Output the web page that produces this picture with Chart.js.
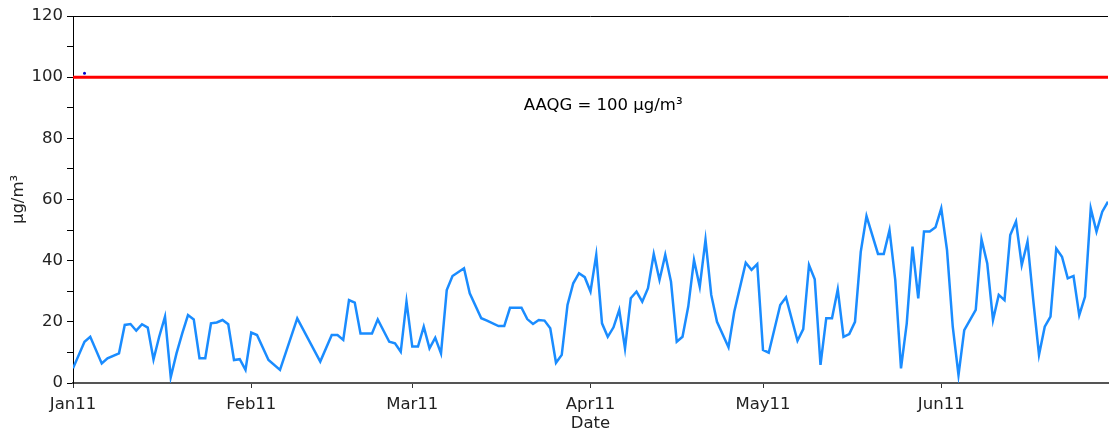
<!DOCTYPE html>
<html><head><meta charset="utf-8">
<script src="https://cdn.jsdelivr.net/npm/chart.js@4.4.0/dist/chart.umd.min.js"></script>
<style>html,body{margin:0;padding:0;background:#fff}#w{width:1112px;height:432px}</style>
</head><body><div id="w"><canvas id="c" width="1112" height="432"></canvas></div>
<script>
// Day of year 2011 (Jan 1 = 0)
const days = [0,2,3,5,6,8,9,10,11,12,13,14,15,16,17,18,19,20,21,22,23,24,25,26,27,28,29,30,31,32,34,36,39,43,45,46,47,48,49,50,52,53,55,56,57,58,59,60,61,62,63,64,65,66,68,69,71,72,74,75,76,78,79,80,81,82,83,84,85,86,87,88,89,90,91,92,93,94,95,96,97,98,99,100,101,102,103,104,105,106,107,108,109,110,111,112,114,115,117,118,119,120,121,123,124,126,127,128,129,130,131,132,133,134,135,136,137,138,140,141,142,143,144,145,146,147,148,149,150,151,152,153,154,155,157,158,159,160,161,162,163,164,165,166,167,168,169,170,171,172,173,174,175,176,177,178,179,180];
const pm10 = [4.8,13.5,15.1,6.4,8.1,9.7,19.0,19.3,17.1,19.2,18.1,7.7,15.2,21.7,1.9,9.7,16.2,22.2,20.8,8.1,8.1,19.5,19.8,20.6,19.2,7.5,7.8,4.3,16.5,15.7,7.5,4.3,21.1,7.0,15.7,15.7,14.1,27.1,26.3,16.2,16.2,20.8,13.5,13.0,10.2,26.6,11.9,11.9,18.4,11.3,14.8,9.7,30.4,35.0,37.5,29.3,21.2,20.4,18.6,18.6,24.6,24.6,20.9,19.3,20.6,20.4,17.9,6.6,9.2,25.5,32.6,35.9,34.6,29.9,41.9,19.5,15.1,18.2,23.9,11.3,27.7,29.9,26.6,31.0,42.2,33.7,41.9,33.1,13.5,15.1,25.0,40.2,31.5,46.8,28.8,20.0,11.7,23.3,39.3,37.0,38.9,10.8,9.9,25.5,28.0,13.8,17.6,38.6,33.9,5.9,21.2,21.2,30.6,15.1,16.0,20.0,42.9,54.6,42.2,42.2,50.0,33.7,4.8,19.5,44.6,27.7,49.5,49.5,50.9,57.1,43.5,18.4,2.6,17.3,23.9,47.0,39.1,20.6,28.8,27.1,48.4,52.8,38.6,46.2,27.1,9.2,18.4,21.7,44.0,41.3,34.2,35.0,22.2,28.2,57.1,49.5,56.0,59.3];
const guidelineDays = [0,180];
const guidelineValues = [100,100];
const markerDays = [2];
const markerValues = [101.3];
const monthStarts = [0,31,59,90,120,151];
const monthLabels = ['Jan11','Feb11','Mar11','Apr11','May11','Jun11'];
const guidelineLabel = 'AAQG = 100 µg/m³';
const labelDay = 92.2, labelValue = 90.6;

const FONT = "'DejaVu Sans', Verdana, sans-serif";
const FS = 16.5;
const extras = {
  id:'extras',
  afterDraw(chart){
    const {ctx, chartArea:a, scales:{x,y}} = chart;
    ctx.save();
    ctx.strokeStyle='#000'; ctx.lineWidth=1;
    ctx.beginPath(); ctx.moveTo(a.left, a.top+0.5); ctx.lineTo(a.right, a.top+0.5); ctx.stroke();
    ctx.fillStyle='#000'; ctx.font=FS+'px '+FONT; ctx.textAlign='center'; ctx.textBaseline='middle';
    ctx.fillText(guidelineLabel, x.getPixelForValue(labelDay), y.getPixelForValue(labelValue));
    ctx.restore();
  }
};

new Chart(document.getElementById('c'), {
  type:'scatter',
  data:{datasets:[
    {data:markerDays.map((d,i)=>({x:d,y:markerValues[i]})), showLine:false, pointRadius:1.5, pointBackgroundColor:'#0000cc', pointBorderWidth:0, order:0},
    {data:guidelineDays.map((d,i)=>({x:d,y:guidelineValues[i]})), showLine:true, borderColor:'#ff0000', borderWidth:3, pointRadius:0, order:2},
    {data:days.map((d,i)=>({x:d,y:pm10[i]})), showLine:true, borderColor:'#1a8cff', borderWidth:2.5, pointRadius:0, tension:0, order:1}
  ]},
  options:{
    responsive:false, animation:false,
    layout:{padding:{top:16,right:1,left:0,bottom:0}},
    plugins:{legend:{display:false}, tooltip:{enabled:false}},
    scales:{
      x:{type:'linear', min:0, max:180,
        afterBuildTicks(s){ s.ticks = monthStarts.map(v=>({value:v})); },
        afterFit(s){ s.height = 49; },
        grid:{drawOnChartArea:false, tickLength:5, color:'#333'},
        border:{color:'#555', width:2},
        ticks:{font:{family:FONT,size:FS}, color:'#222', padding:7, maxRotation:0, autoSkip:false,
          callback(v){ const i = monthStarts.indexOf(v); return i>=0 ? monthLabels[i] : ''; }},
        title:{display:true, text:'Date', font:{family:FONT,size:FS,lineHeight:1}, color:'#222', padding:{top:0,bottom:0}}
      },
      y:{min:0, max:120,
        afterFit(s){ s.width = 73; },
        grid:{drawOnChartArea:false, tickLength:6, color:'#000'},
        border:{color:'#000', width:1},
        ticks:{stepSize:10, font:{family:FONT,size:FS}, color:'#222', padding:4,
          callback(v){ return v%20===0 ? v : ''; }},
        title:{display:true, text:'µg/m³', font:{family:FONT,size:FS,lineHeight:1}, color:'#222', padding:{top:10,bottom:0}}
      }
    }
  },
  plugins:[extras]
});
</script></body></html>
